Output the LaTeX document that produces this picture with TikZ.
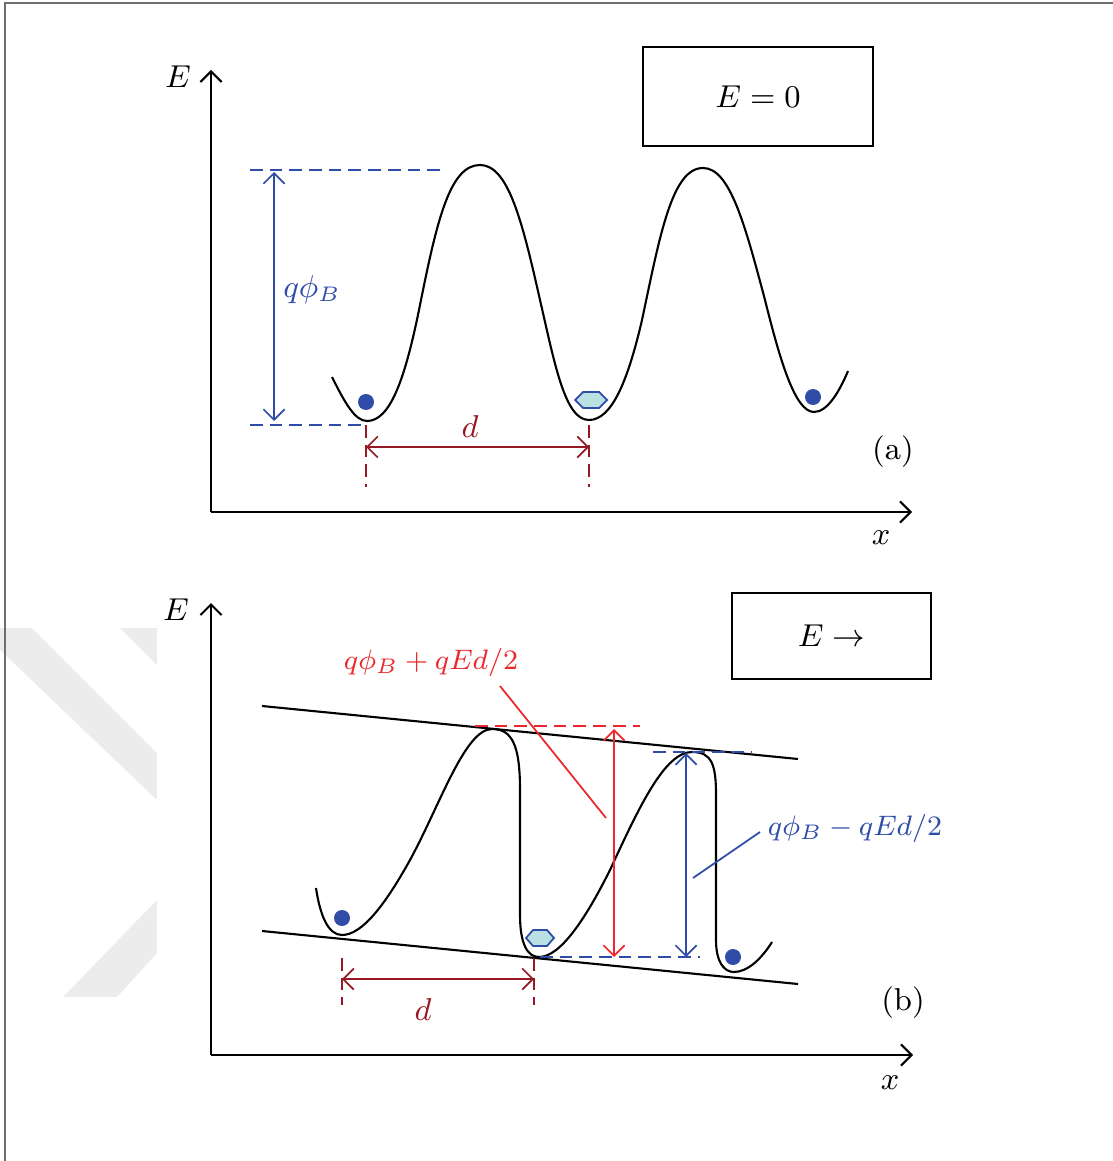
\documentclass[tikz,border=0pt]{standalone}
\usepackage{amsmath, amssymb}
\usepackage{xcolor}
\usepackage{tikz}
\usetikzlibrary{arrows.meta}
\definecolor{mblue}{RGB}{47, 77, 168}
\definecolor{mred}{RGB}{235, 40, 45}
\definecolor{mdarkred}{RGB}{150, 25, 35}
\definecolor{mcyan}{RGB}{185, 225, 225}
\definecolor{mframe}{RGB}{110, 110, 110}
\definecolor{mmark}{RGB}{236, 236, 236}
\tikzset{
  axisline/.style={line width=0.6pt, -{Straight Barb[length=3pt, width=6pt]}},
  dimline/.style={line width=0.5pt, {Straight Barb[length=3pt, width=6pt]}-{Straight Barb[length=3pt, width=6pt]}},
  guide/.style={line width=0.5pt, dash pattern=on 3.6pt off 2pt},
  well/.style={line width=0.6pt},
  fieldbox/.style={draw, line width=0.6pt, font=\small},
  barlabel/.style={font=\fontsize{8.3}{10}\selectfont},
  carrier/.style={fill=mblue},
  ion/.style={draw=mblue, fill=mcyan, line width=0.5pt},
}

\begin{document}
\begin{tikzpicture}[x=0.01cm, y=-0.01cm]
    \useasboundingbox (0,0) rectangle (1113,1161);
    % --- watermark and frame ---
    \fill[mmark] (0,628) -- (32,628) -- (157,753) -- (157,800) -- (0,650) -- cycle;
    \fill[mmark] (120,628) -- (157,628) -- (157,665) -- cycle;
    \fill[mmark] (63,997) -- (117,997) -- (157,953) -- (157,900) -- cycle;
    \draw[mframe, line width=0.6pt] (5,1161) -- (5,3) -- (1113,3);

    % --- (a): E = 0 ---
    \coordinate (Oa) at (211,512);
    \draw[axisline] (Oa) -- (211,70);
    \draw[axisline] (Oa) -- (912,512);
    \node[font=\small] (Ea) at (178,77) {$E$};
    \node[font=\small] (xa) at (881,538) {$x$};
    \node[fieldbox, minimum width=2.3cm, minimum height=0.99cm] (boxa) at (758,96.5) {$E = 0$};
    \draw[well] (332,377) .. controls (345,403) and (355,421) .. (367,421)
      .. controls (390,421) and (405,380) .. (420,305)
      .. controls (437,220) and (450,165) .. (480,165)
      .. controls (508,165) and (522,220) .. (540,300)
      .. controls (555,365) and (565,420) .. (589,420)
      .. controls (612,420) and (628,380) .. (642,320)
      .. controls (660,235) and (672,168) .. (703,168)
      .. controls (730,168) and (745,225) .. (765,300)
      .. controls (780,360) and (795,412) .. (814,412)
      .. controls (828,412) and (840,390) .. (848,371);
    \fill[carrier] (366,402) circle[radius=8];
    \fill[carrier] (813,397) circle[radius=8];
    \draw[ion] (575,400) -- (583,392) -- (599,392) -- (607,400) -- (599,408) -- (583,408) -- cycle;
    % barrier height
    \draw[guide, mblue] (250,170) -- (443,170);
    \draw[guide, mblue] (250,425) -- (365,425);
    \coordinate (phiTa) at (274,172);
    \coordinate (phiBa) at (274,421);
    \draw[dimline, mblue] (phiTa) -- (phiBa);
    \node[mblue, font=\small] (phia) at (312,290) {$q\phi_B$};
    % well spacing
    \draw[guide, mdarkred] (366,425) -- (366,487);
    \draw[guide, mdarkred] (589,425) -- (589,487);
    \coordinate (dLa) at (366,447);
    \coordinate (dRa) at (589,447);
    \draw[dimline, mdarkred] (dLa) -- (dRa);
    \node[mdarkred, font=\small] (da) at (470,427) {$d$};
    \node[font=\small] (taga) at (893,452) {(a)};

    % --- (b): E applied ---
    \coordinate (Ob) at (211,1055);
    \draw[axisline] (Ob) -- (211,603);
    \draw[axisline] (Ob) -- (913,1055);
    \node[font=\small] (Eb) at (176,610) {$E$};
    \node[font=\small] (xb) at (890,1083) {$x$};
    \node[fieldbox, minimum width=1.99cm, minimum height=0.86cm] (boxb) at (831.5,636) {$E \rightarrow$};
    \draw[well] (262,706) -- (798,759);
    \draw[well] (262,931) -- (798,984);
    \draw[well] (316,888) .. controls (320,915) and (328,935) .. (342,935)
      .. controls (362,935) and (385,905) .. (410,860)
      .. controls (440,805) and (465,729) .. (492,729)
      .. controls (512,729) and (520,745) .. (520,790)
      -- (520,915)
      .. controls (520,945) and (528,957) .. (539,957)
      .. controls (560,957) and (585,920) .. (610,870)
      .. controls (640,805) and (665,752) .. (692,752)
      .. controls (712,752) and (716,765) .. (716,795)
      -- (716,940)
      .. controls (716,962) and (724,972) .. (734,972)
      .. controls (748,972) and (762,958) .. (772,942);
    \fill[carrier] (342,918) circle[radius=8];
    \fill[carrier] (733,957) circle[radius=8];
    \draw[ion] (526,938) -- (533,930) -- (547,930) -- (554,938) -- (547,946) -- (533,946) -- cycle;
    % forward barrier
    \draw[guide, mred] (475,726) -- (640,726);
    \coordinate (upTb) at (614,729);
    \coordinate (upBb) at (614,957);
    \draw[dimline, mred] (upTb) -- (upBb);
    \node[mred, barlabel] (upb) at (431,662) {$q\phi_B + qEd/2$};
    \coordinate (upLb) at (606,818);
    \draw[mred, line width=0.5pt] (500,686) -- (upLb);
    % reverse barrier
    \draw[guide, mblue] (653,752) -- (752,752);
    \draw[guide, mblue] (540,957) -- (700,957);
    \coordinate (dnTb) at (686,753);
    \coordinate (dnBb) at (686,957);
    \draw[dimline, mblue] (dnTb) -- (dnBb);
    \node[mblue, barlabel] (dnb) at (855,828) {$q\phi_B - qEd/2$};
    \coordinate (dnLb) at (693,878);
    \draw[mblue, line width=0.5pt] (760,832) -- (dnLb);
    % well spacing
    \draw[guide, mdarkred] (342,958) -- (342,1005);
    \draw[guide, mdarkred] (534,958) -- (534,1005);
    \coordinate (dLb) at (342,979);
    \coordinate (dRb) at (534,979);
    \draw[dimline, mdarkred] (dLb) -- (dRb);
    \node[mdarkred, font=\small] (db) at (423,1010) {$d$};
    \node[font=\small] (tagb) at (903,1003) {(b)};
\end{tikzpicture}
\end{document}
